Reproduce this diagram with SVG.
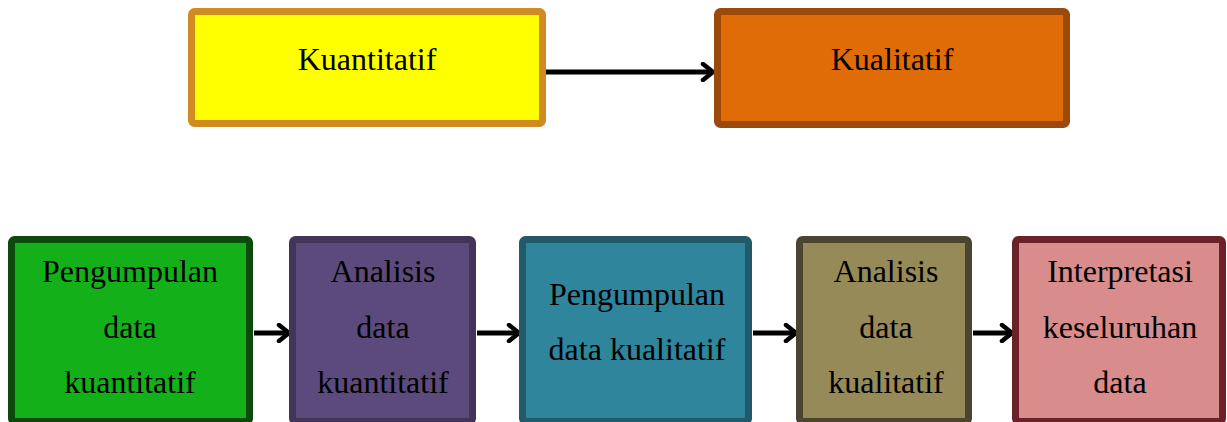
<svg xmlns="http://www.w3.org/2000/svg" width="1227" height="422" viewBox="0 0 1227 422">
<defs>
<marker id="arr" markerWidth="18" markerHeight="20" refX="14" refY="10" orient="auto" markerUnits="userSpaceOnUse">
<path d="M4,2 L14,10 L4,18" fill="none" stroke="#000" stroke-width="4.5" stroke-linecap="round" stroke-linejoin="round"/>
</marker>
<style>
text{font-family:"Liberation Serif","Times New Roman",serif;font-size:32px;fill:#000;text-anchor:middle}
.b{stroke-width:7}
.c{stroke:#000;stroke-width:5;fill:none;marker-end:url(#arr)}
</style>
</defs>
<rect width="1227" height="422" fill="#fff"/>
<g id="connectors">
<line class="c" x1="546" y1="72" x2="713" y2="72"/>
<line class="c" x1="254" y1="333" x2="289" y2="333"/>
<line class="c" x1="477" y1="333" x2="519" y2="333"/>
<line class="c" x1="753" y1="333" x2="796" y2="333"/>
<line class="c" x1="973" y1="333" x2="1012" y2="333"/>
</g>
<g id="kuantitatif">
<rect class="b" x="191.5" y="11.5" width="351" height="112" rx="3" fill="#FFFF00" stroke="#D08C22"/>
<text x="367" y="70">Kuantitatif</text>
</g>
<g id="kualitatif">
<rect class="b" x="717.5" y="11.5" width="349" height="113" rx="3" fill="#E06C08" stroke="#9C4A0C"/>
<text x="892" y="70">Kualitatif</text>
</g>
<g id="pengumpulan-kuantitatif">
<rect class="b" x="11.5" y="239.5" width="238" height="182" rx="3" fill="#14B01A" stroke="#0C4A0C"/>
<text x="130" y="282">Pengumpulan</text>
<text x="130" y="338">data</text>
<text x="130" y="393">kuantitatif</text>
</g>
<g id="analisis-kuantitatif">
<rect class="b" x="292.5" y="239.5" width="180" height="182" rx="3" fill="#5C4A7C" stroke="#43355A"/>
<text x="383" y="282">Analisis</text>
<text x="383" y="338">data</text>
<text x="383" y="393">kuantitatif</text>
</g>
<g id="pengumpulan-kualitatif">
<rect class="b" x="522.5" y="239.5" width="226" height="182" rx="3" fill="#2E859C" stroke="#225A6A"/>
<text x="637" y="305">Pengumpulan</text>
<text x="637" y="360">data kualitatif</text>
</g>
<g id="analisis-kualitatif">
<rect class="b" x="799.5" y="239.5" width="169" height="182" rx="3" fill="#968A58" stroke="#4A4430"/>
<text x="886" y="282">Analisis</text>
<text x="886" y="338">data</text>
<text x="886" y="393">kualitatif</text>
</g>
<g id="interpretasi">
<rect class="b" x="1015.5" y="239.5" width="207" height="182" rx="3" fill="#D88C8C" stroke="#6A2228"/>
<text x="1120" y="282">Interpretasi</text>
<text x="1120" y="338">keseluruhan</text>
<text x="1120" y="393">data</text>
</g>
</svg>
